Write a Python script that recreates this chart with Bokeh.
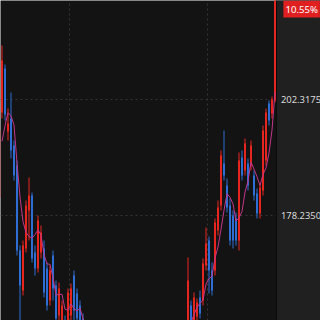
import pandas as pd
from bokeh.plotting import figure
from bokeh.models import Range1d, FixedTicker, Grid, Label, ColumnDataSource, Span
from bokeh.core.properties import value
from bokeh.embed import file_html
from bokeh.resources import INLINE

# candle index (negative ones lie left of the visible window)
idx = list(range(-4, 92))

open_ = [182.0, 183.0, 184.0, 195.0,
         199.71, 208.88, 195.75, 198.46, 192.83, 188.66, 170.94, 162.59, 171.35, 179.28,
         182.40, 170.52, 167.18, 170.52, 171.35, 167.18, 160.51, 169.89, 163.64, 157.38,
         154.26, 156.34, 155.92, 157.38, 165.72, 161.97, 159.47, 156.76,
         151.1, 149.8, 148.2, 149.0, 147.1, 145.9, 146.8, 144.6, 143.2, 144.1, 142.5, 141.3,
         142.4, 140.8, 141.9, 143.5, 142.7, 144.2, 145.6, 144.9, 146.3, 147.5, 146.6, 148.1,
         149.3, 148.4, 149.9, 151.2, 150.3, 151.8, 152.9, 151.7, 153.2, 152.4,
         155.30, 159.47, 155.30, 157.17, 161.14, 160.51, 167.81, 173.02, 166.77, 166.77,
         175.10, 180.32, 189.07, 184.49, 180.32, 178.23, 177.61, 173.02, 190.33, 187.62,
         189.07, 188.66, 186.57, 182.82, 178.65, 183.45, 189.70, 201.58, 199.50, 202.21]

high = [184.5, 185.0, 196.2, 197.3,
        213.68, 209.72, 200.54, 203.88, 193.87, 189.70, 171.98, 173.02, 181.36, 186.16,
        183.03, 171.98, 178.23, 176.15, 173.02, 168.43, 167.81, 170.94, 164.68, 164.26,
        160.51, 157.38, 163.01, 164.05, 166.77, 163.01, 160.51, 157.80,
        152.0, 150.5, 149.8, 149.5, 147.8, 147.5, 147.0, 145.1, 144.8, 144.5, 143.0, 143.0,
        142.9, 142.5, 144.0, 144.1, 144.8, 146.1, 146.3, 146.9, 148.2, 148.0, 148.7, 149.9,
        149.8, 150.6, 151.8, 151.7, 152.5, 153.6, 153.4, 153.9, 154.0, 154.5,
        169.48, 160.51, 162.18, 160.93, 162.59, 169.27, 175.73, 173.85, 168.43, 177.61,
        181.36, 191.79, 195.95, 185.95, 181.78, 179.28, 178.86, 191.37, 191.79, 194.29,
        190.12, 193.87, 187.62, 183.86, 184.90, 197.00, 200.54, 202.21, 203.04, 223.78]

low = [181.2, 182.1, 183.5, 194.1,
       198.46, 198.04, 193.87, 190.12, 185.53, 169.89, 156.34, 161.55, 170.52, 173.02,
       168.43, 165.72, 166.35, 169.27, 161.14, 158.42, 159.47, 160.51, 155.30, 154.26,
       152.17, 150.00, 154.26, 155.92, 156.34, 155.30, 153.21, 150.50,
       148.9, 147.5, 147.6, 146.5, 145.2, 145.3, 144.0, 142.5, 142.8, 141.9, 140.6, 140.9,
       140.2, 140.3, 141.5, 142.0, 142.3, 143.8, 144.3, 144.5, 145.9, 146.0, 146.2, 147.6,
       147.9, 148.0, 149.4, 149.7, 149.9, 151.2, 151.0, 151.3, 151.8, 152.0,
       154.26, 154.26, 154.26, 155.92, 156.76, 159.47, 166.77, 161.97, 161.55, 165.72,
       174.06, 179.28, 185.53, 178.86, 171.98, 171.35, 171.98, 170.94, 185.53, 186.57,
       183.45, 187.62, 181.36, 177.61, 177.61, 182.40, 188.66, 197.00, 198.46, 201.80]

close = [183.0, 184.0, 195.0, 196.0,
         210.55, 199.29, 197.41, 191.79, 186.57, 170.94, 163.64, 171.98, 180.32, 182.40,
         169.27, 167.18, 177.19, 174.69, 162.18, 159.47, 166.77, 163.01, 156.76, 163.01,
         159.47, 151.13, 162.18, 163.01, 158.42, 156.76, 154.26, 151.13,
         149.8, 148.2, 149.0, 147.1, 145.9, 146.8, 144.6, 143.2, 144.1, 142.5, 141.3, 142.4,
         140.8, 141.9, 143.5, 142.7, 144.2, 145.6, 144.9, 146.3, 147.5, 146.6, 148.1, 149.3,
         148.4, 149.9, 151.2, 150.3, 151.8, 152.9, 151.7, 153.2, 152.4, 153.6,
         164.68, 155.92, 161.14, 160.09, 157.80, 168.23, 172.40, 166.77, 162.59, 176.77,
         179.90, 190.74, 186.57, 179.90, 173.02, 173.02, 173.02, 189.70, 186.57, 193.24,
         184.49, 192.83, 182.40, 178.65, 184.07, 195.95, 199.71, 198.04, 202.42, 223.78]

y_ticks = [178.2350, 202.3175]
y_tick_labels = ["178.2350", "202.3175"]
x_grid_ticks = [22.5, 68.5]
change_text = "10.55%"

UP = "#e8261f"
DOWN = "#2f6fd6"
MA_COLOR = "#c2378a"
PANEL = "#202020"

df = pd.DataFrame(dict(i=idx, o=open_, h=high, l=low, c=close))
df["color"] = [UP if c >= o else DOWN for o, c in zip(df.o, df.c)]
df["top"] = df[["o", "c"]].max(axis=1)
df["bot"] = df[["o", "c"]].min(axis=1)
df["ma"] = df.c.rolling(5).mean()
src = ColumnDataSource(df)

y_lo, y_hi = 156.34, 223.06
last_i = idx[-1]
panel_x0 = last_i + 0.5          # price-scale panel begins right after last candle
x_end = -0.5 + 320 / 3.0

p = figure(width=320, height=320, output_backend="svg", toolbar_location=None,
           x_range=Range1d(-0.5, x_end), y_range=Range1d(y_lo, y_hi),
           x_axis_location=None, y_axis_location=None,
           background_fill_color="#131313", border_fill_color="#131313",
           min_border=0)
p.outline_line_color = None
p.grid.visible = False

p.add_layout(Grid(dimension=0, ticker=FixedTicker(ticks=x_grid_ticks),
                  grid_line_color="#343434", grid_line_dash="2 3"))
p.add_layout(Grid(dimension=1, ticker=FixedTicker(ticks=y_ticks),
                  grid_line_color="#343434", grid_line_dash="2 3"))

# price-scale panel on the right
p.quad(left=[panel_x0], right=[x_end + 1], bottom=[y_lo - 5], top=[y_hi + 5],
       fill_color=PANEL, line_color=None)
p.add_layout(Span(location=panel_x0, dimension="height", line_color="#0a0a0a",
                  line_width=1, level="glyph"))

p.segment(x0="i", y0="h", x1="i", y1="l", color="color", line_width=1, source=src)
p.vbar(x="i", width=0.66, top="top", bottom="bot", fill_color="color",
       line_color=None, source=src)
p.line(x="i", y="ma", color=MA_COLOR, line_width=1, source=src)

# tick labels of the price scale
p.text(x=[panel_x0 + 1.5] * len(y_ticks), y=y_ticks, text=y_tick_labels,
       text_align="left", text_baseline="middle", text_color="#dadada",
       text_font=value("Noto Sans"), text_font_size="9.4px")

p.add_layout(Label(x=x_end - 0.2, y=close[-1], text=change_text, y_offset=-12,
                   text_align="right", text_baseline="middle", text_color="white",
                   text_font="Noto Sans", text_font_size="9.6px",
                   background_fill_color="#e02020", padding=2))

open("out.html", "w").write(file_html(p, INLINE))
